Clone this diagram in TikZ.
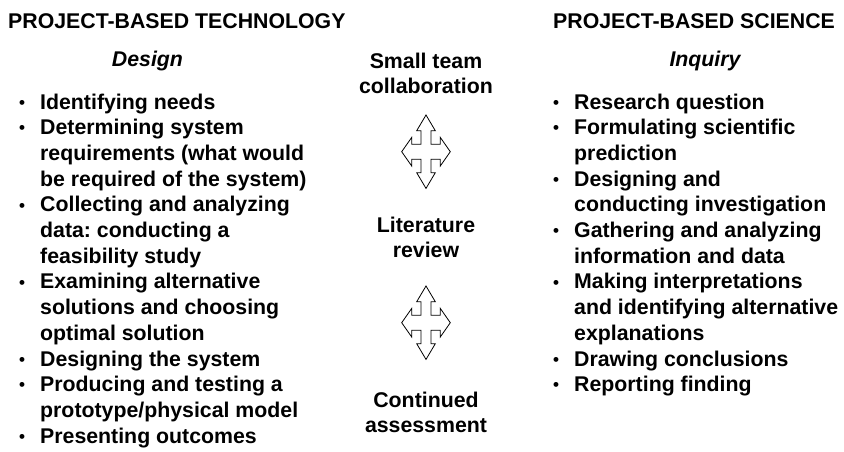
\documentclass[tikz,border=0pt]{standalone}
\usepackage{fontspec}
\setmainfont{Liberation Sans}
\usetikzlibrary{calc}
\frenchspacing

\newcommand{\itm}{\makebox[22pt][l]{\hspace{1pt}\raisebox{0.8pt}{\fontsize{17}{17}\selectfont\textbullet}}}
\newcommand{\ind}{\hspace*{22pt}}

\begin{document}
\begin{tikzpicture}[x=1pt, y=-1pt,
            body/.style={
                font=\fontsize{21.3}{25.7}\selectfont\bfseries,
                inner sep=0pt
            },
            head/.style={
                body, anchor=base west
            },
            sub head/.style={
                body, font=\fontsize{21.3}{25.7}\selectfont\bfseries\itshape, anchor=base
            },
            quad arrow/.pic={
                \draw[fill=white, line width=0.8pt, line join=miter]
                    (0,-36.7) -- (9.3,-21) -- (5,-21) -- (5,-7.5) -- (14.3,-7.5) -- (14.3,-14.3)
                    -- (24.3,0) -- (14.3,14.3) -- (14.3,7.5) -- (5,7.5) -- (5,21) -- (9.3,21)
                    -- (0,36.7) -- (-9.3,21) -- (-5,21) -- (-5,7.5) -- (-14.3,7.5) -- (-14.3,14.3)
                    -- (-24.3,0) -- (-14.3,-14.3) -- (-14.3,-7.5) -- (-5,-7.5) -- (-5,-21) -- (-9.3,-21)
                    -- cycle;
            }
            ]

            \useasboundingbox (0,0) rectangle (844,451);

            \pgfmathsetmacro{\mx}{426}
            \pgfmathsetmacro{\lsp}{25.7}

            \node[head] (techhead) at (8,28) {PROJECT-BASED TECHNOLOGY};
            \node[head] (scihead) at (553,28) {PROJECT-BASED SCIENCE};
            \node[sub head] (design) at (147.5,66) {Design};
            \node[sub head] (inquiry) at (705,66) {Inquiry};

            % base anchor sits on the last line
            \node[body, align=left, anchor=base west] (techlist) at (18,109+13*\lsp) {
                \itm Identifying needs\\
                \itm Determining system\\
                \ind requirements (what would\\
                \ind be required of the system)\\
                \itm Collecting and analyzing\\
                \ind data: conducting a\\
                \ind feasibility study\\
                \itm Examining alternative\\
                \ind solutions and choosing\\
                \ind optimal solution\\
                \itm Designing the system\\
                \itm Producing and testing a\\
                \ind prototype/physical model\\
                \itm Presenting outcomes};

            \node[body, align=left, anchor=base west] (scilist) at (552,109+11*\lsp) {
                \itm Research question\\
                \itm Formulating scientific\\
                \ind prediction\\
                \itm Designing and\\
                \ind conducting investigation\\
                \itm Gathering and analyzing\\
                \ind information and data\\
                \itm Making interpretations\\
                \ind and identifying alternative\\
                \ind explanations\\
                \itm Drawing conclusions\\
                \itm Reporting finding};

            \node[body, align=center, anchor=base] (team) at (\mx,68+\lsp) {Small team\\collaboration};
            \node[body, align=center, anchor=base] (review) at (\mx,232+\lsp) {Literature\\review};
            \node[body, align=center, anchor=base] (assess) at (\mx,407+\lsp) {Continued\\assessment};

            \coordinate (upper) at (\mx,151.7);
            \coordinate (lower) at (\mx,322.7);
            \pic at (upper) {quad arrow};
            \pic at (lower) {quad arrow};

        \end{tikzpicture}
\end{document}
